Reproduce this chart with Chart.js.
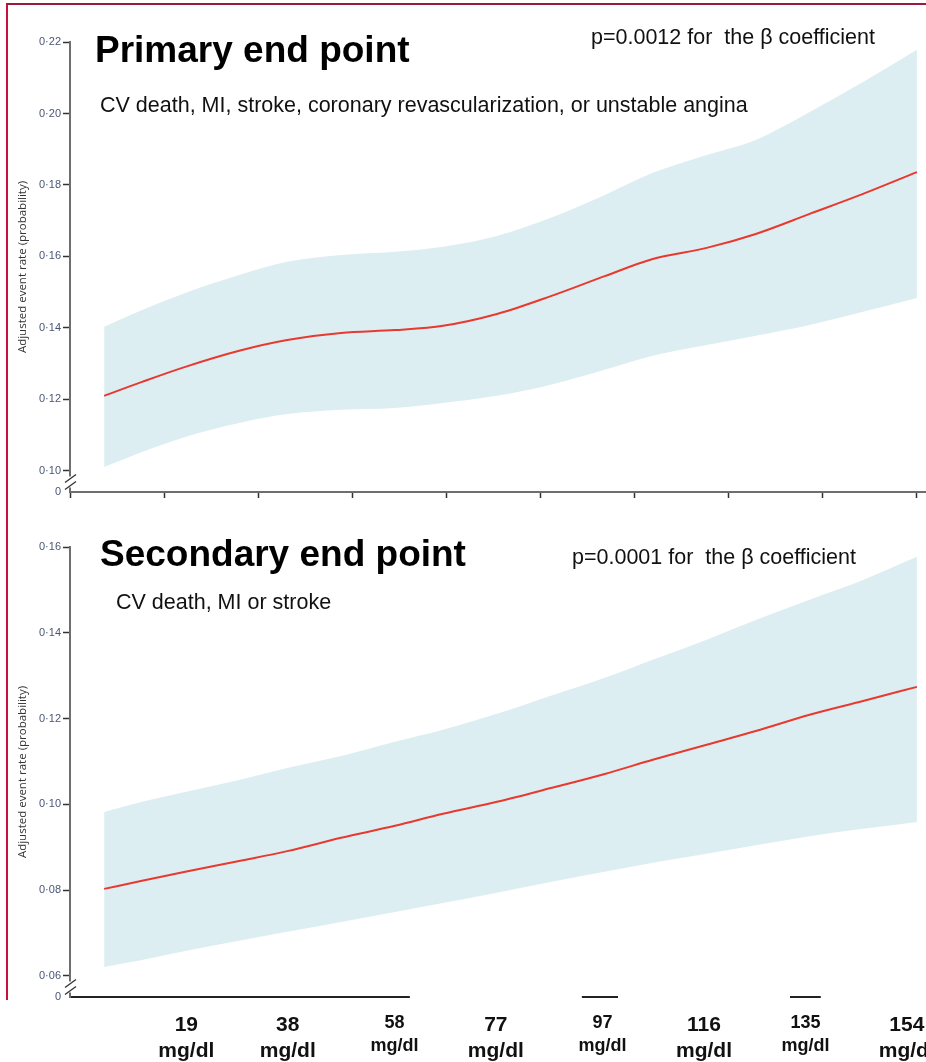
<!DOCTYPE html>
<html>
<head>
<meta charset="utf-8">
<script src="https://cdn.jsdelivr.net/npm/chart.js@4.4.1/dist/chart.umd.min.js"></script>
<style>
  body { margin: 0; background: #fff; }
  #page { position: relative; width: 926px; height: 1062px; overflow: hidden; font-family: "Liberation Sans", Arial, sans-serif; }
  canvas { position: absolute; left: 0; }
  #primaryChart { top: 0; }
  #secondaryChart { top: 520px; }
  .frame { position: absolute; left: 6px; top: 3px; width: 940px; height: 995px; border-left: 2px solid #c8103e; border-top: 2px solid #9b1b3f; }
  .title { position: absolute; font-weight: bold; font-size: 37px; line-height: 37px; color: #000; white-space: pre; }
  .note { position: absolute; font-size: 21.5px; line-height: 21px; color: #111; white-space: pre; }
</style>
</head>
<body>
<div id="page">
  <div class="frame"></div>
  <canvas id="primaryChart" width="926" height="520"></canvas>
  <canvas id="secondaryChart" width="926" height="542"></canvas>

  <div class="title" style="left:95px; top:31px;">Primary end point</div>
  <div class="note" style="left:591px; top:27px;">p=0.0012 for  the β coefficient</div>
  <div class="note" style="left:100px; top:95px;">CV death, MI, stroke, coronary revascularization, or unstable angina</div>

  <div class="title" style="left:100px; top:535px;">Secondary end point</div>
  <div class="note" style="left:572px; top:547px;">p=0.0001 for  the β coefficient</div>
  <div class="note" style="left:116px; top:592px;">CV death, MI or stroke</div>
</div>

<script>
// LDL values (mg/dl) where the curves are sampled
const ldl = [3.6, 10.7, 18.8, 28.9, 37.9, 48.0, 58.1, 67.1, 77.2, 87.3, 97.4, 106.4, 116.5, 125.7, 135.8, 145.8, 155.9];

// primary end point: adjusted rate and 95% band
const primaryRate  = [0.1210, 0.1249, 0.1291, 0.1336, 0.1366, 0.1386, 0.1394, 0.1406, 0.1439, 0.1489, 0.1545, 0.1593, 0.1624, 0.1663, 0.1719, 0.1775, 0.1836];
const primaryUpper = [0.1403, 0.1450, 0.1498, 0.1548, 0.1585, 0.1604, 0.1613, 0.1627, 0.1657, 0.1708, 0.1772, 0.1834, 0.1884, 0.1926, 0.2004, 0.2088, 0.2178];
const primaryLower = [0.1011, 0.1053, 0.1095, 0.1134, 0.1159, 0.1171, 0.1176, 0.1190, 0.1210, 0.1241, 0.1283, 0.1322, 0.1352, 0.1378, 0.1408, 0.1445, 0.1484];

// secondary end point
const secondaryRate  = [0.0803, 0.0822, 0.0843, 0.0868, 0.0891, 0.0922, 0.0950, 0.0978, 0.1006, 0.1038, 0.1071, 0.1104, 0.1139, 0.1171, 0.1209, 0.1241, 0.1274];
const secondaryUpper = [0.0982, 0.1006, 0.1029, 0.1057, 0.1085, 0.1113, 0.1146, 0.1174, 0.1211, 0.1253, 0.1295, 0.1337, 0.1384, 0.1430, 0.1477, 0.1523, 0.1577];
const secondaryLower = [0.0621, 0.0637, 0.0658, 0.0682, 0.0703, 0.0726, 0.0749, 0.0770, 0.0794, 0.0819, 0.0843, 0.0864, 0.0885, 0.0905, 0.0926, 0.0943, 0.0959];

// y ticks above the axis break
const primaryTicks = [0.10, 0.12, 0.14, 0.16, 0.18, 0.20, 0.22];
const secondaryTicks = [0.06, 0.08, 0.10, 0.12, 0.14, 0.16];

// dose labels under the lower panel
const doseLabels = [19, 38, 58, 77, 97, 116, 135, 154];
const doseLarge  = [true, true, false, true, false, true, false, true];
const doseBoxed  = [false, false, false, true, false, true, false, true];

// x range shared by both panels; top panel has 9 equal tick gaps up to the last sample
const xAxisMin = -2.8;
const xAxisMax = 157.6;
const xTickEnd = 155.9;

const bandColor = '#ddeef3';
const lineColor = '#e8392f';

function pointsOf(values) {
    return ldl.map((x, i) => ({ x: x, y: values[i] }));
}

// draws the "//" break between the lowest tick and zero
const axisBreak = {
    id: 'axisBreak',
    afterDraw(chart) {
        const ys = chart.scales.y;
        const x0 = ys.right;
        const top = ys.getPixelForValue(ys.ticks[1].value);
        const cy = (top + ys.bottom) / 2;
        const c = chart.ctx;
        c.save();
        c.fillStyle = '#fff';
        c.fillRect(x0 - 2, cy - 5, 4, 11);
        c.strokeStyle = '#333';
        c.lineWidth = 1.3;
        c.beginPath();
        c.moveTo(x0 - 5, cy + 1); c.lineTo(x0 + 6, cy - 7);
        c.moveTo(x0 - 5, cy + 8); c.lineTo(x0 + 6, cy);
        c.stroke();
        c.restore();
    }
};

// bottom axis line of the lower panel, interrupted behind the boxed dose labels
const doseAxisLine = {
    id: 'doseAxisLine',
    beforeDraw(chart) {
        const xs = chart.scales.x;
        const y = chart.chartArea.bottom;
        const c = chart.ctx;
        c.save();
        c.strokeStyle = '#222';
        c.lineWidth = 2;
        c.beginPath();
        c.moveTo(xs.left, y);
        c.lineTo(xs.right, y);
        c.stroke();
        c.fillStyle = '#fff';
        doseLabels.forEach((v, i) => {
            if (doseBoxed[i]) {
                const px = xs.getPixelForValue(v);
                c.fillRect(px - 86, y - 3, 172, 6);
            }
        });
        c.restore();
    }
};

function yAxis(yMin, yMax, tickValues) {
    return {
        type: 'linear',
        min: yMin,
        max: yMax,
        afterBuildTicks: s => { s.ticks = [yMin].concat(tickValues).map(v => ({ value: v })); },
        afterFit: s => { s.width = 70; },
        ticks: {
            callback: (v, i) => i === 0 ? '0' : v.toFixed(2).replace('.', '·'),
            font: { family: 'Liberation Sans', size: 11 },
            color: '#4a5675',
            padding: 2
        },
        grid: {
            drawOnChartArea: false,
            tickLength: 7,
            tickWidth: 1.5,
            tickColor: ctx => ctx.index === 0 ? 'rgba(0,0,0,0)' : '#333'
        },
        border: { color: '#6e6e6e', width: 2 },
        title: {
            display: true,
            text: 'Adjusted event rate (probability)',
            font: { family: 'Open Sans', size: 11.5 },
            color: '#333',
            padding: { top: 16, bottom: 0 }
        }
    };
}

function datasetsFor(rate, lower, upper) {
    return [
        { data: pointsOf(rate), borderColor: lineColor, borderWidth: 2, pointRadius: 0, cubicInterpolationMode: 'monotone', fill: false },
        { data: pointsOf(lower), borderColor: 'rgba(0,0,0,0)', borderWidth: 0, pointRadius: 0, cubicInterpolationMode: 'monotone', fill: false },
        { data: pointsOf(upper), borderColor: 'rgba(0,0,0,0)', borderWidth: 0, pointRadius: 0, cubicInterpolationMode: 'monotone', fill: '-1', backgroundColor: bandColor }
    ];
}

const commonOptions = {
    animation: false,
    responsive: false,
    devicePixelRatio: 1,
    plugins: { legend: { display: false }, tooltip: { enabled: false } }
};

// upper panel
new Chart(document.getElementById('primaryChart').getContext('2d'), {
    type: 'line',
    data: { datasets: datasetsFor(primaryRate, primaryLower, primaryUpper) },
    options: Object.assign({}, commonOptions, {
        layout: { padding: { top: 42, left: 0, right: 0, bottom: 0 } },
        scales: {
            x: {
                type: 'linear',
                min: xAxisMin,
                max: xAxisMax,
                afterBuildTicks: s => {
                    const ticks = [];
                    for (let i = 0; i <= 9; i++) {
                        ticks.push({ value: xAxisMin + i * (xTickEnd - xAxisMin) / 9 });
                    }
                    s.ticks = ticks;
                },
                afterFit: s => { s.height = 28; s.paddingLeft = 0; s.paddingRight = 0; },
                ticks: { display: false },
                grid: { drawOnChartArea: false, tickLength: 6, tickWidth: 1.5, tickColor: '#333' },
                border: { color: '#6e6e6e', width: 2 }
            },
            y: yAxis(0.0941, 0.22, primaryTicks)
        }
    }),
    plugins: [axisBreak]
});

// lower panel
new Chart(document.getElementById('secondaryChart').getContext('2d'), {
    type: 'line',
    data: { datasets: datasetsFor(secondaryRate, secondaryLower, secondaryUpper) },
    options: Object.assign({}, commonOptions, {
        layout: { padding: { top: 27, left: 0, right: 0, bottom: 0 } },
        scales: {
            x: {
                type: 'linear',
                min: xAxisMin,
                max: xAxisMax,
                afterBuildTicks: s => { s.ticks = doseLabels.map(v => ({ value: v })); },
                afterFit: s => { s.height = 65; s.paddingLeft = 0; s.paddingRight = 0; },
                ticks: {
                    callback: v => [String(v), 'mg/dl'],
                    font: ctx => ({ family: 'Liberation Sans', weight: 'bold', size: doseLarge[ctx.index] ? 21 : 18, lineHeight: 1.25 }),
                    color: '#111',
                    padding: 15,
                    maxRotation: 0,
                    autoSkip: false
                },
                grid: { drawOnChartArea: false, drawTicks: false },
                border: { display: false }
            },
            y: yAxis(0.0551, 0.16, secondaryTicks)
        }
    }),
    plugins: [doseAxisLine, axisBreak]
});
</script>
</body>
</html>
